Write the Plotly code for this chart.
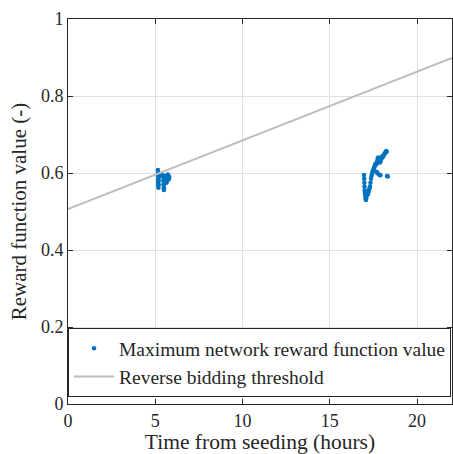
import plotly.graph_objects as go

# Maximum network reward value, first bidding window (hours, value)
t_first = [5.15, 5.155, 5.16, 5.165, 5.17, 5.175, 5.18, 5.19, 5.20, 5.21, 5.23, 5.26,
           5.29, 5.32, 5.35, 5.38, 5.41, 5.44, 5.46, 5.47, 5.48, 5.49, 5.50, 5.51,
           5.52, 5.54, 5.57, 5.60, 5.62, 5.64, 5.66, 5.68, 5.70, 5.72, 5.74, 5.76,
           5.78, 5.80]
v_first = [0.608, 0.600, 0.592, 0.584, 0.576, 0.568, 0.562, 0.570, 0.582, 0.592, 0.597, 0.596,
           0.594, 0.595, 0.593, 0.596, 0.594, 0.590, 0.580, 0.570, 0.562, 0.556, 0.560, 0.570,
           0.580, 0.588, 0.592, 0.590, 0.582, 0.575, 0.578, 0.586, 0.592, 0.596, 0.590, 0.583,
           0.586, 0.590]

# Maximum network reward value, second bidding window
t_second = [16.96, 16.97, 16.98, 16.99, 17.00, 17.01, 17.03, 17.05, 17.07, 17.09, 17.11, 17.13,
            17.15, 17.18, 17.21, 17.24, 17.27, 17.30, 17.33, 17.36, 17.39, 17.42, 17.45, 17.48,
            17.51, 17.54, 17.57, 17.60, 17.63, 17.66, 17.69, 17.72, 17.75, 17.78, 17.81, 17.84,
            17.87, 17.90, 17.93, 17.96, 17.99, 18.02, 18.05, 18.08, 18.11, 18.14, 18.17, 18.20,
            18.23, 18.26,
            17.68, 17.72, 17.80, 17.86, 17.90, 18.28, 18.32]
v_second = [0.595, 0.585, 0.575, 0.565, 0.555, 0.548, 0.540, 0.533, 0.530, 0.535, 0.540, 0.545,
            0.548, 0.545, 0.550, 0.556, 0.560, 0.565, 0.575, 0.585, 0.592, 0.598, 0.603, 0.607,
            0.610, 0.614, 0.618, 0.622, 0.625, 0.622, 0.625, 0.632, 0.638, 0.640, 0.636, 0.630,
            0.627, 0.630, 0.635, 0.640, 0.643, 0.640, 0.643, 0.646, 0.648, 0.650, 0.652, 0.655,
            0.657, 0.655,
            0.603, 0.600, 0.597, 0.595, 0.594, 0.592, 0.591]

# Reverse bidding threshold (linear in time)
t_threshold = [0, 22]
v_threshold = [0.506, 0.899]

x_ticks = [0, 5, 10, 15, 20]
y_ticks = [0, 0.2, 0.4, 0.6, 0.8, 1]
y_ticklabels = ["0", "0.2", "0.4", "0.6", "0.8", "1"]

blue = "#0072BD"
gray = "#BDBDBD"
axis_color = "#262626"
grid_color = "#E0E0E0"
font_family = "Liberation Serif"

fig = go.Figure()
fig.add_trace(go.Scatter(
    x=t_first + t_second, y=v_first + v_second,
    mode="markers", marker=dict(color=blue, size=4.5),
    name="Maximum network reward function value",
))
fig.add_trace(go.Scatter(
    x=t_threshold, y=v_threshold,
    mode="lines", line=dict(color=gray, width=2),
    name="Reverse bidding threshold",
))

axis_common = dict(
    showline=True, linecolor=axis_color, linewidth=1, mirror="allticks",
    ticks="inside", ticklen=5, tickcolor=axis_color,
    showgrid=True, gridcolor=grid_color, gridwidth=1,
    zeroline=False, tickfont=dict(family=font_family, size=18, color=axis_color),
)

fig.update_layout(
    width=453, height=454,
    margin=dict(l=68, r=1, t=19, b=50),
    paper_bgcolor="white", plot_bgcolor="white",
    font=dict(family=font_family, color=axis_color),
    xaxis=dict(range=[0, 22], tickvals=x_ticks,
               title=dict(text="Time from seeding (hours)", standoff=3,
                          font=dict(family=font_family, size=21.5, color=axis_color)),
               **axis_common),
    yaxis=dict(range=[0, 1], tickvals=y_ticks, ticktext=y_ticklabels,
               title=dict(text="Reward function value (-)", standoff=8,
                          font=dict(family=font_family, size=21, color=axis_color)),
               **axis_common),
    legend=dict(x=0.0, xanchor="left", y=0.018, yanchor="bottom",
                bgcolor="white", bordercolor=axis_color, borderwidth=1,
                font=dict(family=font_family, size=19.5, color=axis_color),
                tracegroupgap=0, itemwidth=40),
    showlegend=True,
)

fig.write_html("out.html")
